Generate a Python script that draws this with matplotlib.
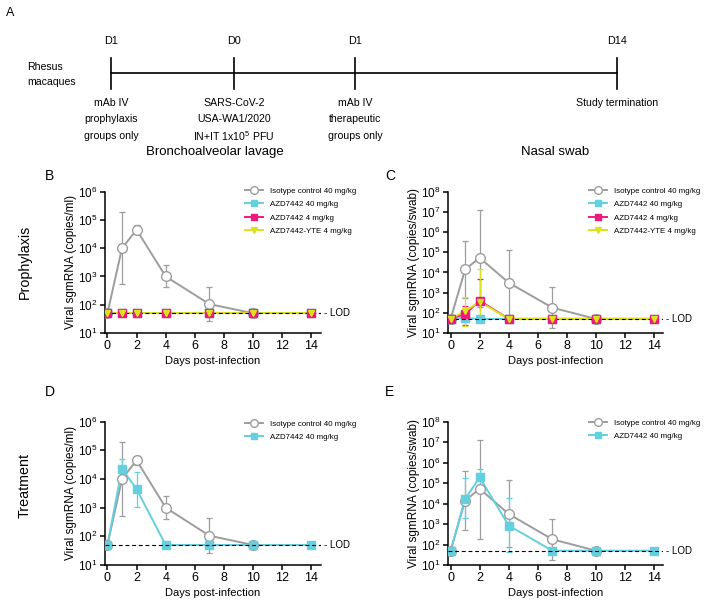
import numpy as np
import matplotlib
matplotlib.use("Agg")
import matplotlib.pyplot as plt
from matplotlib.lines import Line2D

plt.rcParams['font.family'] = ['Liberation Sans', 'DejaVu Sans']
plt.rcParams['mathtext.fontset'] = 'custom'
plt.rcParams['mathtext.rm'] = 'Liberation Sans'
plt.rcParams['mathtext.it'] = 'Liberation Sans'

# ---- data ----
days = [0, 1, 2, 4, 7, 10, 14]
days_iso = [0, 1, 2, 4, 7, 10]
LOD = 50

# Bronchoalveolar lavage, isotype control (same animals in B and D)
bal_iso = [50, 1.0e4, 4.5e4, 1.0e3, 105, 50]
bal_iso_hi = [50, 1.9e5, 6.6e4, 2.6e3, 440, 50]
bal_iso_lo = [50, 530, 3.2e4, 410, 26, 50]

# BAL prophylaxis groups (all at LOD)
bal_p_azd40 = [50, 50, 50, 50, 50, 50, 50]
bal_p_azd4 = [50, 50, 50, 50, 50, 50, 50]
bal_p_yte4 = [50, 50, 50, 50, 50, 50, 50]

# BAL treatment
bal_t_azd40 = [50, 2.3e4, 4.4e3, 50, 50, 50, 50]
bal_t_azd40_hi = [50, 4.9e4, 1.75e4, 50, 50, 50, 50]
bal_t_azd40_lo = [50, 1.2e4, 1.05e3, 50, 50, 50, 50]

# Nasal swab, isotype control
ns_iso = [50, 1.4e4, 5.3e4, 3.1e3, 180, 50]
ns_iso_hi = [50, 3.7e5, 1.3e7, 1.35e5, 1.8e3, 50]
ns_iso_lo = [50, 520, 190, 75, 17, 50]

# Nasal swab prophylaxis
ns_p_azd40 = [50, 55, 50, 50, 50, 50, 50]
ns_p_azd40_hi = [50, 75, 50, 50, 50, 50, 50]
ns_p_azd40_lo = [50, 40, 50, 50, 50, 50, 50]
ns_p_azd4 = [50, 87, 400, 50, 50, 50, 50]
ns_p_azd4_hi = [50, 230, 4.6e3, 50, 50, 50, 50]
ns_p_azd4_lo = [50, 26, 36, 50, 50, 50, 50]
ns_p_yte4 = [50, 122, 355, 50, 50, 50, 50]
ns_p_yte4_hi = [50, 580, 1.4e4, 50, 50, 50, 50]
ns_p_yte4_lo = [50, 21, 40, 50, 50, 50, 50]

# Nasal swab treatment
ns_t_azd40 = [50, 1.7e4, 1.9e5, 850, 50, 50, 50]
ns_t_azd40_hi = [50, 1.7e5, 4.8e5, 1.8e4, 50, 50, 50]
ns_t_azd40_lo = [50, 2.0e3, 8.0e4, 41, 50, 50, 50]

labels = ['Isotype control 40 mg/kg', 'AZD7442 40 mg/kg',
          'AZD7442 4 mg/kg', 'AZD7442-YTE 4 mg/kg']

timeline_top = ['D1', 'D0', 'D1', 'D14']
timeline_bottom = [['mAb IV', 'prophylaxis', 'groups only'],
                   ['SARS-CoV-2', 'USA-WA1/2020', 'IN+IT 1x10$^5$ PFU'],
                   ['mAb IV', 'therapeutic', 'groups only'],
                   ['Study termination']]

GRAY = '#9d9d9d'
CYAN = '#63cfdf'
MAGENTA = '#ec1a7d'
YELLOW = '#dbe21c'

W, H = 716, 603
fig = plt.figure(figsize=(W / 100, H / 100), dpi=100)


def px_rect(l, t, r, b):
    return [l / W, 1 - b / H, (r - l) / W, (b - t) / H]


# ---- panel A: study timeline (pixel coordinates) ----
axA = fig.add_axes([0, 0, 1, 1])
axA.set_xlim(0, W)
axA.set_ylim(H, 0)
axA.axis('off')
tl_x = [111, 234, 355, 617]
axA.plot([tl_x[0], tl_x[-1]], [73, 73], color='black', lw=1.2)
for x, top, bot in zip(tl_x, timeline_top, timeline_bottom):
    axA.plot([x, x], [58, 89], color='black', lw=1.2)
    axA.text(x, 41, top, ha='center', va='center', fontsize=7.8)
    for i, line in enumerate(bot):
        axA.text(x, 103 + 16.5 * i, line, ha='center', va='center', fontsize=7.6)
axA.text(27, 67, 'Rhesus', ha='left', va='center', fontsize=7.6)
axA.text(27, 82, 'macaques', ha='left', va='center', fontsize=7.6)
axA.text(10, 13, 'A', ha='center', va='center', fontsize=9)

# panel letters, titles, row labels
for x, y, s in [(50, 176, 'B'), (390, 176, 'C'), (50, 392, 'D'), (390, 392, 'E')]:
    axA.text(x, y, s, ha='center', va='center', fontsize=10)
axA.text(215, 152, 'Bronchoalveolar lavage', ha='center', va='center', fontsize=9.5)
axA.text(555, 152, 'Nasal swab', ha='center', va='center', fontsize=9.5)
axA.text(25, 262, 'Prophylaxis', ha='center', va='center', rotation=90, fontsize=10.3)
axA.text(25, 485, 'Treatment', ha='center', va='center', rotation=90, fontsize=10.3)


def errbars(ax, x, y, lo, hi, color, z):
    x = np.array(x, dtype=float)
    y = np.array(y, dtype=float)
    lo = np.array(lo, dtype=float)
    hi = np.array(hi, dtype=float)
    m = (hi > y) | (lo < y)
    if m.any():
        ax.errorbar(x[m], y[m], yerr=[y[m] - lo[m], hi[m] - y[m]], fmt='none',
                    ecolor=color, elinewidth=0.9, capsize=2.3, capthick=0.9, zorder=z)


def series(ax, x, y, color, marker, mfc, ms, z, lo=None, hi=None):
    if lo is not None:
        errbars(ax, x, y, lo, hi, color, z)
    ax.plot(x, y, color=color, lw=1.4, zorder=z)
    ax.plot(x, y, ls='none', marker=marker, ms=ms, mfc=mfc, mec=color,
            mew=1.0, zorder=z + 5)


def style(ax, ymax_exp, ylabel):
    ax.set_yscale('log')
    ax.set_ylim(10, 10 ** ymax_exp)
    ax.set_xlim(-0.2, 14.62)
    ax.set_xticks(range(0, 15, 2))
    ax.set_yticks([10 ** k for k in range(1, ymax_exp + 1)])
    ax.set_yticklabels(['10$^{%d}$' % k for k in range(1, ymax_exp + 1)])
    ax.yaxis.set_minor_locator(matplotlib.ticker.NullLocator())
    for s in ['top', 'right']:
        ax.spines[s].set_visible(False)
    for s in ['left', 'bottom']:
        ax.spines[s].set_linewidth(1.1)
    ax.tick_params(length=3.5, width=1.1, pad=1.5)
    ax.tick_params(axis='x', labelsize=9)
    ax.tick_params(axis='y', labelsize=8.5)
    ax.set_xlabel('Days post-infection', fontsize=8, labelpad=3)
    ax.set_ylabel(ylabel, fontsize=8.5, labelpad=1)
    ax.axhline(LOD, color='black', lw=0.8, ls=(0, (3.5, 2.5)), zorder=8)
    ax.text(1.015, LOD, '- LOD', transform=ax.get_yaxis_transform(),
            ha='left', va='center', fontsize=7)


def legend(ax, n, x0, y0):
    specs = [(GRAY, 'o', 'white', 5.5), (CYAN, 's', CYAN, 4.5),
             (MAGENTA, 's', MAGENTA, 4.5), (YELLOW, 'v', YELLOW, 4.5)]
    handles = [Line2D([], [], color=c, lw=1.4, marker=m, mfc=f, mec=c, ms=s)
               for c, m, f, s in specs[:n]]
    ax.legend(handles, labels[:n], loc='upper left', frameon=False,
              bbox_to_anchor=(x0 / W, 1 - y0 / H), bbox_transform=fig.transFigure,
              fontsize=5.7, handlelength=2.3, handletextpad=0.8,
              labelspacing=0.75, borderaxespad=0, borderpad=0)


# ---- panel B ----
axB = fig.add_axes(px_rect(104.5, 191.7, 320.5, 333))
series(axB, days_iso, bal_iso, GRAY, 'o', 'white', 7, 2, bal_iso_lo, bal_iso_hi)
series(axB, days, bal_p_azd40, CYAN, 's', CYAN, 5.5, 3)
series(axB, days, bal_p_azd4, MAGENTA, 's', MAGENTA, 5.5, 4)
series(axB, days, bal_p_yte4, YELLOW, 'v', YELLOW, 5, 5)
style(axB, 6, 'Viral sgmRNA (copies/ml)')
legend(axB, 4, 245, 187)

# ---- panel C ----
axC = fig.add_axes(px_rect(447.7, 191.7, 663, 333))
series(axC, days_iso, ns_iso, GRAY, 'o', 'white', 7, 2, ns_iso_lo, ns_iso_hi)
series(axC, days, ns_p_azd40, CYAN, 's', CYAN, 5.5, 3, ns_p_azd40_lo, ns_p_azd40_hi)
series(axC, days, ns_p_azd4, MAGENTA, 's', MAGENTA, 5.5, 4, ns_p_azd4_lo, ns_p_azd4_hi)
series(axC, days, ns_p_yte4, YELLOW, 'v', YELLOW, 5, 5, ns_p_yte4_lo, ns_p_yte4_hi)
style(axC, 8, 'Viral sgmRNA (copies/swab)')
legend(axC, 4, 589, 187)

# ---- panel D ----
axD = fig.add_axes(px_rect(104.5, 421.7, 320.5, 565))
series(axD, days_iso, bal_iso, GRAY, 'o', 'white', 7, 2, bal_iso_lo, bal_iso_hi)
series(axD, days, bal_t_azd40, CYAN, 's', CYAN, 5.5, 3, bal_t_azd40_lo, bal_t_azd40_hi)
style(axD, 6, 'Viral sgmRNA (copies/ml)')
legend(axD, 2, 245, 420)

# ---- panel E ----
axE = fig.add_axes(px_rect(447.7, 421.7, 663, 565))
series(axE, days_iso, ns_iso, GRAY, 'o', 'white', 7, 2, ns_iso_lo, ns_iso_hi)
series(axE, days, ns_t_azd40, CYAN, 's', CYAN, 5.5, 3, ns_t_azd40_lo, ns_t_azd40_hi)
style(axE, 8, 'Viral sgmRNA (copies/swab)')
legend(axE, 2, 589, 419)

fig.savefig('out.png', dpi=100)
